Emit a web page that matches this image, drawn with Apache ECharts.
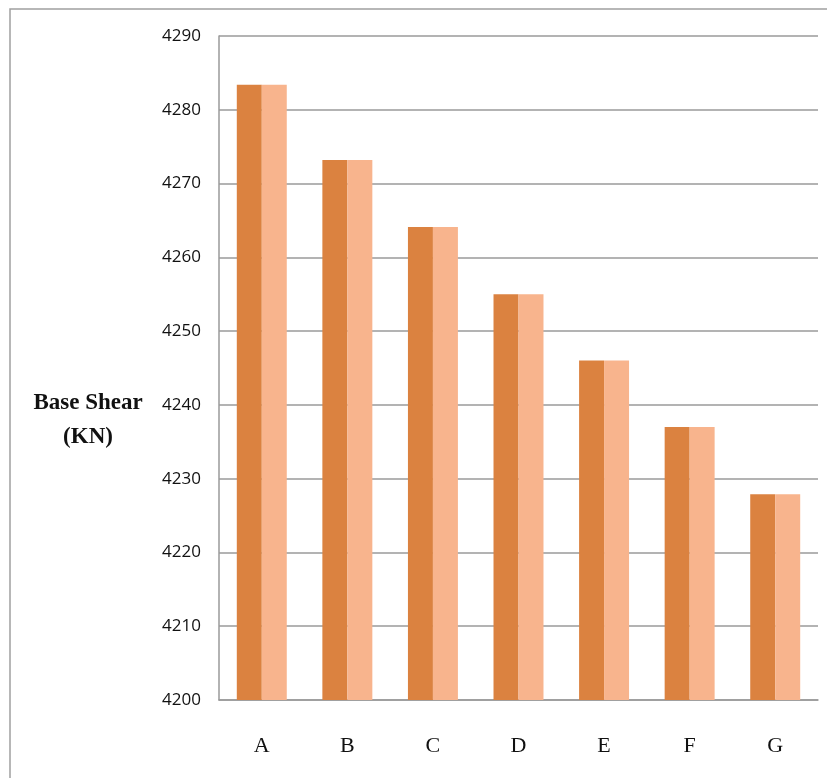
<!DOCTYPE html>
<html>
<head>
<meta charset="utf-8">
<script src="https://cdn.jsdelivr.net/npm/echarts@6/dist/echarts.min.js"></script>
<style>
html,body{margin:0;padding:0;background:#fff;}
#chart{width:827px;height:778px;}
</style>
</head>
<body>
<div id="chart"></div>
<script>
const categories = ['A','B','C','D','E','F','G'];
const series1 = [4283.4, 4273.2, 4264.1, 4255.0, 4246.0, 4237.0, 4227.9];
const series2 = [4283.4, 4273.2, 4264.1, 4255.0, 4246.0, 4237.0, 4227.9];
const yMin = 4200, yMax = 4290, yStep = 10;
const yTitle = 'Base Shear\n(KN)';

const chart = echarts.init(document.getElementById('chart'), null, {renderer:'canvas'});
chart.setOption({
  animation:false,
  backgroundColor:'#fff',
  grid:{left:219, top:36, right:9, bottom:78, containLabel:false},
  graphic:[
    {type:'rect', shape:{x:10, y:9, width:840, height:800}, style:{fill:'none', stroke:'#a0a0a0', lineWidth:1.5}, silent:true, z:-1},
    {type:'text', x:88, y:420, style:{text:yTitle, font:'bold 23px "Liberation Serif", "DejaVu Serif", serif', fill:'#111', textAlign:'center', textVerticalAlign:'middle', lineHeight:34}}
  ],
  xAxis:{
    type:'category', data:categories,
    axisLine:{show:true, lineStyle:{color:'#9a9a9a', width:1.5}},
    axisTick:{show:false},
    axisLabel:{margin:35, fontSize:22, color:'#111', fontFamily:'"Liberation Serif", "DejaVu Serif", serif'}
  },
  yAxis:{
    type:'value', min:yMin, max:yMax, interval:yStep,
    axisLine:{show:true, lineStyle:{color:'#9a9a9a', width:1.5}},
    axisTick:{show:false},
    splitLine:{show:true, lineStyle:{color:'#9a9a9a', width:1.5}},
    axisLabel:{margin:18, fontSize:17, color:'#111', fontFamily:'"Open Sans", "DejaVu Sans", sans-serif', formatter:function(v){return String(v);}}
  },
  series:[
    {type:'bar', data:series1, barGap:'0%', barCategoryGap:'41.6%', itemStyle:{color:'#DB8240'}},
    {type:'bar', data:series2, barGap:'0%', barCategoryGap:'41.6%', itemStyle:{color:'#F8B48D'}}
  ]
});
</script>
</body>
</html>
